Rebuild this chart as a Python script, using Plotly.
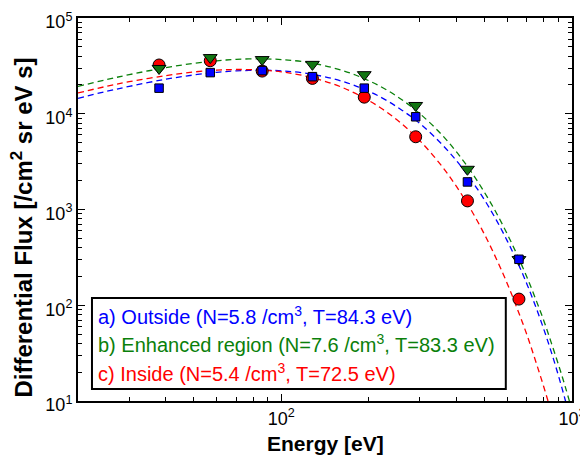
import plotly.graph_objects as go

# ---- data ----
energy_pts = [38, 57, 86, 128, 193, 290, 437, 657]
flux_outside = [1.85e4, 2.69e4, 2.82e4, 2.44e4, 1.85e4, 9.3e3, 1.94e3, 302]
flux_enhanced = [2.97e4, 3.86e4, 3.68e4, 3.28e4, 2.56e4, 1.22e4, 2.63e3, 300]
flux_inside = [3.23e4, 3.58e4, 2.79e4, 2.34e4, 1.49e4, 5.75e3, 1.23e3, 116]

energy_fit = [20, 25, 30, 40, 50, 60, 70, 85, 100, 120, 150, 180, 220, 260, 300,
              350, 400, 450, 500, 550, 600, 650, 700, 750, 800, 850, 900, 950, 1000]
fit_outside = [1.45e4, 1.71e4, 1.93e4, 2.29e4, 2.54e4, 2.71e4, 2.80e4, 2.85e4, 2.81e4,
               2.66e4, 2.33e4, 1.96e4, 1.49e4, 1.09e4, 7.9e3, 5.1e3, 3.25e3, 2.03e3,
               1.26e3, 770, 465, 280, 166, 97, 56, 32, 18, 10, 5.6]
fit_enhanced = [1.93e4, 2.27e4, 2.56e4, 3.03e4, 3.36e4, 3.57e4, 3.70e4, 3.75e4, 3.68e4,
                3.48e4, 3.03e4, 2.54e4, 1.92e4, 1.40e4, 1.00e4, 6.41e3, 4.02e3, 2.48e3,
                1.51e3, 914, 548, 328, 196, 116, 69, 40, 23.5, 13.8, 8]
fit_inside = [1.65e4, 1.93e4, 2.16e4, 2.50e4, 2.73e4, 2.85e4, 2.90e4, 2.86e4, 2.74e4,
              2.49e4, 2.06e4, 1.63e4, 1.15e4, 7.83e3, 5.21e3, 3.05e3, 1.75e3, 986,
              550, 303, 166, 90, 49, 26, 14, 7.5, 4, 2, 1]

legend_lines = [
    "a) Outside (N=5.8 /cm<sup>3</sup>, T=84.3 eV)",
    "b) Enhanced region (N=7.6 /cm<sup>3</sup>, T=83.3 eV)",
    "c) Inside (N=5.4 /cm<sup>3</sup>, T=72.5 eV)",
]
x_title = "<b>Energy [eV]</b>"
y_title = "<b>Differential Flux [/cm<sup>2</sup> sr eV s]</b>"

x_major = [100, 1000]
x_major_text = ["10<sup>2</sup>", "10<sup>3</sup>"]
x_minor = [20, 30, 40, 50, 60, 70, 80, 90, 200, 300, 400, 500, 600, 700, 800, 900]
y_major = [10, 100, 1000, 10000, 100000]
y_major_text = ["10<sup>1</sup>", "10<sup>2</sup>", "10<sup>3</sup>", "10<sup>4</sup>", "10<sup>5</sup>"]
y_minor = [m * 10 ** k for k in range(1, 5) for m in range(2, 10)]

BLUE = "#0000ff"
GREEN = "#0a800a"
GREEN_M = "#127512"
RED = "#ff0000"
FONT = "Liberation Sans, Arial, Helvetica, sans-serif"

fig = go.Figure()

dash = "6px,4px"
for ys, col in [(fit_outside, BLUE), (fit_inside, RED), (fit_enhanced, GREEN)]:
    fig.add_trace(go.Scatter(x=energy_fit, y=ys, mode="lines", line=dict(color=col, width=1.3, dash=dash),
                             line_shape="spline", hoverinfo="skip", showlegend=False))

fig.add_trace(go.Scatter(x=energy_pts, y=flux_inside, mode="markers", showlegend=False,
                         marker=dict(symbol="circle", size=12, color=RED, line=dict(color="black", width=1))))
fig.add_trace(go.Scatter(x=energy_pts, y=flux_enhanced, mode="markers", showlegend=False,
                         marker=dict(symbol="triangle-down", size=12, color=GREEN_M, line=dict(color="black", width=1))))
fig.add_trace(go.Scatter(x=energy_pts, y=flux_outside, mode="markers", showlegend=False,
                         marker=dict(symbol="square", size=8.5, color=BLUE, line=dict(color="black", width=1))))

axis_common = dict(showline=True, linecolor="black", linewidth=2, mirror="ticks",
                   ticks="inside", ticklen=7, tickwidth=1.2, tickcolor="black",
                   showgrid=False, zeroline=False, ticklabeloverflow="allow", automargin=False,
                   tickfont=dict(family=FONT, size=18, color="black"))

fig.update_xaxes(type="log", range=[1.30103, 3], tickvals=x_major, ticktext=x_major_text,
                 minor=dict(tickvals=x_minor, ticks="inside", ticklen=4, tickwidth=1, tickcolor="black", showgrid=False),
                 **axis_common)
fig.update_yaxes(type="log", range=[1, 5], tickvals=y_major, ticktext=y_major_text, ticklabelshift=4,
                 minor=dict(tickvals=y_minor, ticks="inside", ticklen=4, tickwidth=1, tickcolor="black", showgrid=False),
                 **axis_common)

# axis titles
fig.add_annotation(text=x_title, xref="paper", yref="paper", x=0.5, y=-0.112, xanchor="center", yanchor="middle",
                   showarrow=False, font=dict(family=FONT, size=21, color="black"))
fig.add_annotation(text=y_title, xref="paper", yref="paper", x=-0.114, y=0.452, xanchor="center", yanchor="middle",
                   textangle=-90, showarrow=False, font=dict(family=FONT, size=24, color="black"))

# legend box
fig.add_shape(type="rect", xref="paper", yref="paper", x0=0.0283, x1=0.866, y0=0.0313, y1=0.269,
              line=dict(color="black", width=2), fillcolor="white", layer="above")
for txt, col, yy in zip(legend_lines, [BLUE, GREEN, RED], [0.2245, 0.1514, 0.0757]):
    fig.add_annotation(text=txt, xref="paper", yref="paper", x=0.036, y=yy, xanchor="left", yanchor="middle",
                       showarrow=False, font=dict(family=FONT, size=20, color=col))

# the page body has an 8px margin: figure is 580x447 so that it ends at the window edge
fig.update_layout(width=580, height=447, margin=dict(l=70, r=16, t=10, b=54, autoexpand=False),
                  plot_bgcolor="white", paper_bgcolor="white", showlegend=False)

fig.write_html("out.html")
